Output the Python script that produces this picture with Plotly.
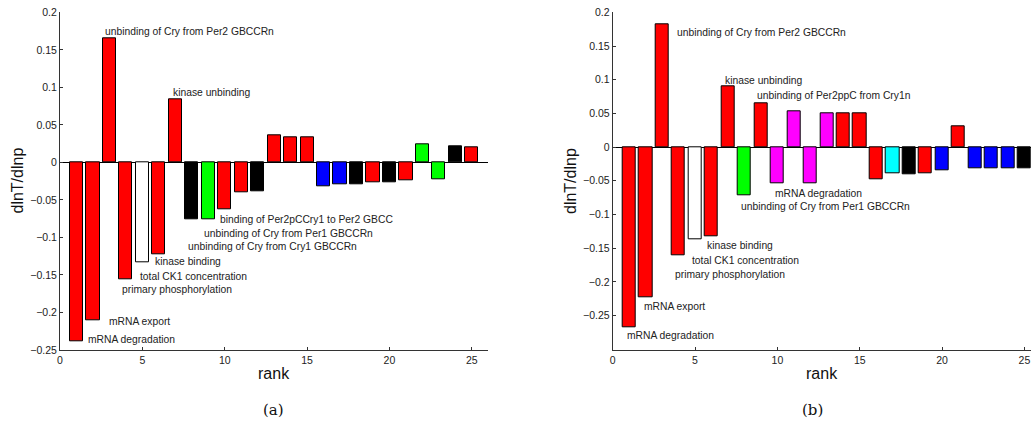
import plotly.graph_objects as go

W, H = 1031, 438

# ---- data ----
rank = list(range(1, 26))

values_a = [-0.238, -0.211, 0.166, -0.156, -0.133, -0.123, 0.084, -0.076, -0.0756, -0.063,
            -0.0405, -0.039, 0.0364, 0.0337, 0.0337, -0.0316, -0.0293, -0.029, -0.027, -0.026,
            -0.024, 0.024, -0.0227, 0.022, 0.020]
colors_a = ["red", "red", "red", "red", "white", "red", "red", "black", "lime", "red",
            "red", "black", "red", "red", "red", "blue", "blue", "black", "red", "black",
            "red", "lime", "lime", "black", "red"]

values_b = [-0.267, -0.223, 0.1825, -0.161, -0.1365, -0.1316, 0.0895, -0.0712, 0.0648, -0.0539,
            0.0534, -0.054, 0.0509, 0.050, 0.050, -0.048, -0.039, -0.0396, -0.0386, -0.034,
            0.0307, -0.0307, -0.0307, -0.0307, -0.0307]
colors_b = ["red", "red", "red", "red", "white", "red", "red", "lime", "red", "magenta",
            "magenta", "magenta", "magenta", "red", "red", "red", "cyan", "black", "red", "blue",
            "red", "blue", "blue", "blue", "black"]

labels_a = ["unbinding of Cry from Per2 GBCCRn", "kinase unbinding",
            "binding of Per2pCCry1 to Per2 GBCC", "unbinding of Cry from Per1 GBCCRn",
            "unbinding of Cry from Cry1 GBCCRn", "kinase binding", "total CK1 concentration",
            "primary phosphorylation", "mRNA export", "mRNA degradation"]
label_x_a = [2.59, 6.72, 9.61, 8.6, 7.63, 5.65, 4.74, 3.66, 2.83, 1.58]
label_y_a = [0.175, 0.0928, -0.076, -0.0947, -0.1125, -0.1316, -0.1525, -0.170, -0.2125, -0.236]

labels_b = ["unbinding of Cry from Per2 GBCCRn", "kinase unbinding",
            "unbinding of Per2ppC from Cry1n", "mRNA degradation",
            "unbinding of Cry from Per1 GBCCRn", "kinase binding", "total CK1 concentration",
            "primary phosphorylation", "mRNA export", "mRNA degradation"]
label_x_b = [3.79, 6.69, 8.65, 9.73, 7.68, 5.61, 4.70, 3.68, 1.76, 0.75]
label_y_b = [0.170, 0.0984, 0.0761, -0.0687, -0.0886, -0.1465, -0.1677, -0.1885, -0.237, -0.2795]

yticks = [0.2, 0.15, 0.1, 0.05, 0, -0.05, -0.1, -0.15, -0.2, -0.25]
ytick_text = ["0.2", "0.15", "0.1", "0.05", "0", "\u22120.05", "\u22120.1", "\u22120.15", "\u22120.2", "\u22120.25"]
xticks = [0, 5, 10, 15, 20, 25]

FONT = "Liberation Sans, Arial, sans-serif"

fig = go.Figure()
fig.add_trace(go.Bar(x=rank, y=values_a, width=0.8, marker=dict(color=colors_a, line=dict(color="black", width=1)),
                     xaxis="x", yaxis="y", showlegend=False, hoverinfo="skip"))
fig.add_trace(go.Bar(x=rank, y=values_b, width=0.8, marker=dict(color=colors_b, line=dict(color="black", width=1)),
                     xaxis="x2", yaxis="y2", showlegend=False, hoverinfo="skip"))

y_dom = [(H - 350) / H, (H - 12.3) / H]
xa_dom = [60 / W, 488.3 / W]
xb_dom = [612.7 / W, 1.0]

axis_common = dict(showline=True, linecolor="#333", linewidth=1, ticks="inside", ticklen=3,
                   tickcolor="#333", showgrid=False, automargin=False,
                   tickfont=dict(family=FONT, size=10.5, color="#222"))

fig.update_layout(
    width=W, height=H, margin=dict(l=0, r=0, t=0, b=0, pad=0), autosize=False,
    paper_bgcolor="white", plot_bgcolor="white", bargap=0,
    xaxis=dict(domain=xa_dom, range=[0, 26], tickvals=xticks, zeroline=False, anchor="y", **axis_common),
    yaxis=dict(domain=y_dom, range=[-0.25, 0.2], tickvals=yticks, ticktext=ytick_text, anchor="x",
               zeroline=True, zerolinecolor="black", zerolinewidth=1, **axis_common),
    xaxis2=dict(domain=xb_dom, range=[0, 25.4], tickvals=xticks, zeroline=False, anchor="y2", **axis_common),
    yaxis2=dict(domain=y_dom, range=[-0.301, 0.2], tickvals=yticks, ticktext=ytick_text, anchor="x2",
                zeroline=True, zerolinecolor="black", zerolinewidth=1, **axis_common),
)

ann_font = dict(family=FONT, size=10.3, color="#222")
for t, x, y in zip(labels_a, label_x_a, label_y_a):
    fig.add_annotation(text=t, x=x, y=y, xref="x", yref="y", xanchor="left", yanchor="middle",
                       showarrow=False, font=ann_font)
for t, x, y in zip(labels_b, label_x_b, label_y_b):
    fig.add_annotation(text=t, x=x, y=y, xref="x2", yref="y2", xanchor="left", yanchor="middle",
                       showarrow=False, font=ann_font)

title_font = dict(family=FONT, size=16, color="#111")
for cx, cy, txt, ang in [(274, 373, "rank", 0), (822, 373, "rank", 0),
                         (17.5, 181, "dlnT/dlnp", -90), (571, 181, "dlnT/dlnp", -90)]:
    fig.add_annotation(text=txt, x=cx / W, y=1 - cy / H, xref="paper", yref="paper",
                       xanchor="center", yanchor="middle", textangle=ang, showarrow=False, font=title_font)

cap_font = dict(family="DejaVu Serif, serif", size=15, color="#111")
for cx, txt in [(273, "(a)"), (812, "(b)")]:
    fig.add_annotation(text=txt, x=cx / W, y=1 - 410 / H, xref="paper", yref="paper",
                       xanchor="center", yanchor="middle", showarrow=False, font=cap_font)

fig.write_html("out.html", config={"displayModeBar": False},
               post_script="document.body.style.margin='0';document.body.style.padding='0';"
                           "document.documentElement.style.overflow='hidden';")
